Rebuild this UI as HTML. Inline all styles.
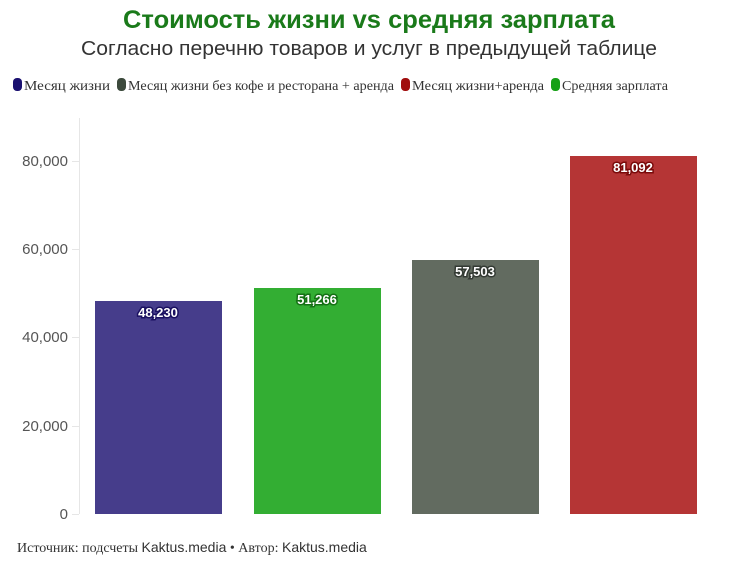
<!DOCTYPE html>
<html><head><meta charset="utf-8"><style>
body{margin:0;width:739px;height:566px;background:#fff;overflow:hidden;font-family:"Liberation Sans","DejaVu Sans",sans-serif;}
</style></head><body>
<svg width="739" height="566" xmlns="http://www.w3.org/2000/svg">
<text x="369" y="28" text-anchor="middle" font-size="25" font-weight="bold" fill="#1a7a1a" textLength="492" lengthAdjust="spacingAndGlyphs">Стоимость жизни vs средняя зарплата</text>
<text x="369" y="55" text-anchor="middle" font-size="20" fill="#333" textLength="576" lengthAdjust="spacingAndGlyphs">Согласно перечню товаров и услуг в предыдущей таблице</text>
<g font-family="Liberation Serif, serif" font-size="14" fill="#333">
<rect x="13" y="78" width="9" height="13" rx="4" fill="#1a1070"/><text x="24" y="90" textLength="86" lengthAdjust="spacingAndGlyphs">Месяц жизни</text>
<rect x="117" y="78" width="9" height="13" rx="4" fill="#3c4a3c"/><text x="128" y="90" textLength="266" lengthAdjust="spacingAndGlyphs">Месяц жизни без кофе и ресторана + аренда</text>
<rect x="401" y="78" width="9" height="13" rx="4" fill="#a00d0d"/><text x="412" y="90" textLength="132" lengthAdjust="spacingAndGlyphs">Месяц жизни+аренда</text>
<rect x="551" y="78" width="9" height="13" rx="4" fill="#17a017"/><text x="562" y="90" textLength="106" lengthAdjust="spacingAndGlyphs">Средняя зарплата</text>
</g>
<line x1="79.5" y1="118" x2="79.5" y2="514" stroke="#e6e6e6"/>
<g stroke="#e6e6e6"><line x1="72" y1="514.5" x2="79" y2="514.5"/><line x1="72" y1="426.5" x2="79" y2="426.5"/><line x1="72" y1="337.5" x2="79" y2="337.5"/><line x1="72" y1="249.5" x2="79" y2="249.5"/><line x1="72" y1="161.5" x2="79" y2="161.5"/></g>
<g font-size="15" fill="#555" text-anchor="end">
<text x="68" y="519">0</text><text x="68" y="431">20,000</text><text x="68" y="342">40,000</text><text x="68" y="254">60,000</text><text x="68" y="166">80,000</text>
</g>
<rect x="95" y="301" width="127" height="213" fill="#463d8b"/>
<rect x="254" y="288" width="127" height="226" fill="#33ae33"/>
<rect x="412" y="260" width="127" height="254" fill="#626b60"/>
<rect x="570" y="156" width="127" height="358" fill="#b53535"/>
<g font-size="13" font-weight="bold" fill="#fff" text-anchor="middle" stroke-width="3" paint-order="stroke">
<text x="158" y="317" stroke="#1a1060">48,230</text>
<text x="317" y="304" stroke="#147014">51,266</text>
<text x="475" y="276" stroke="#333a33">57,503</text>
<text x="633" y="172" stroke="#7a0a0a">81,092</text>
</g>
<text x="17" y="552" font-size="14" fill="#333"><tspan font-family="Liberation Serif, serif">Источник: подсчеты </tspan>Kaktus.media<tspan font-family="Liberation Serif, serif"> • Автор: </tspan>Kaktus.media</text>
</svg>
</body></html>
